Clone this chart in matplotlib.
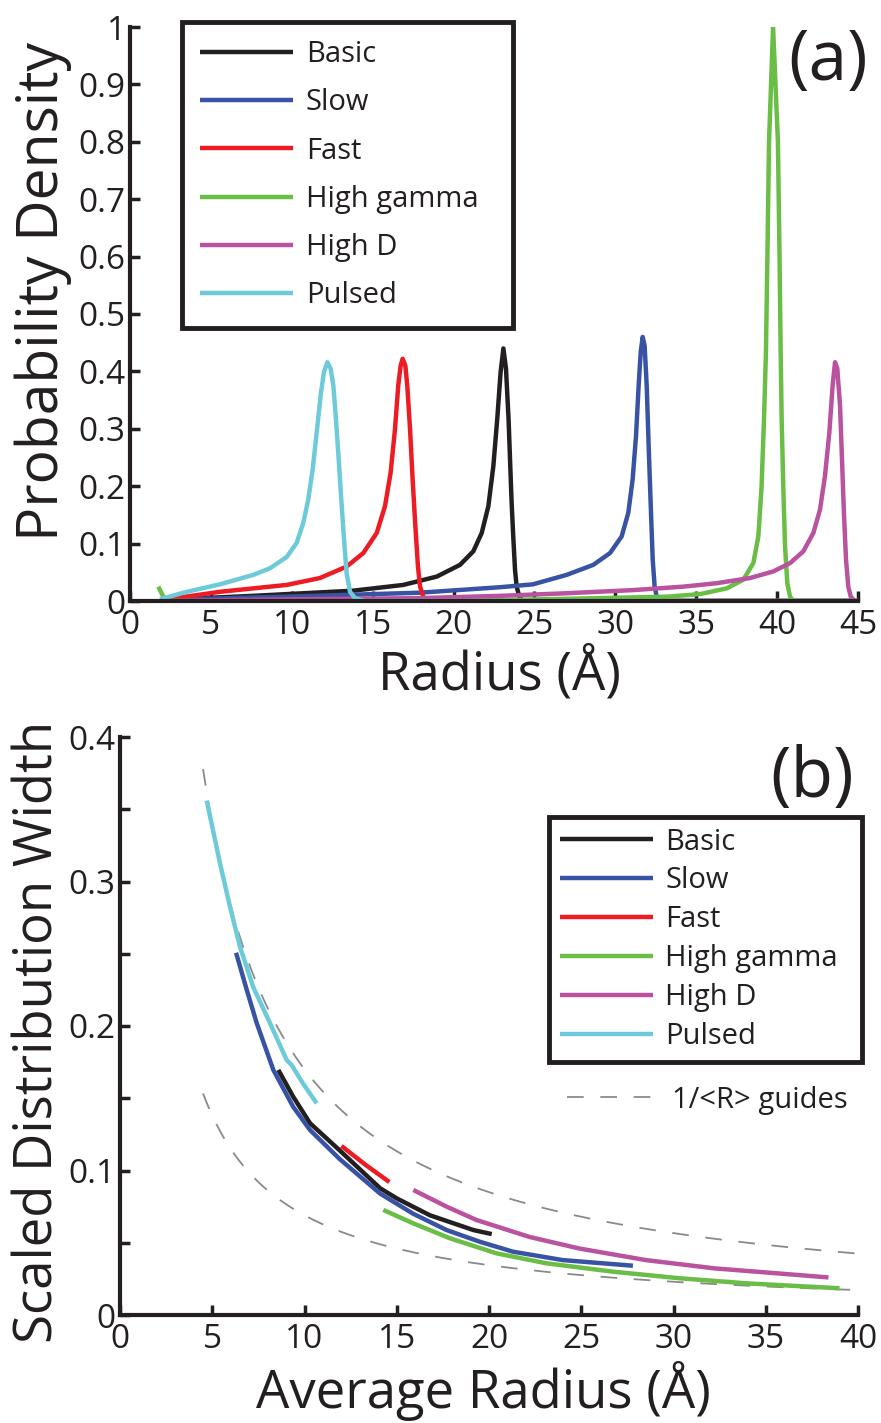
import matplotlib
matplotlib.use("Agg")
import matplotlib.pyplot as plt
from matplotlib.ticker import MultipleLocator
import numpy as np

plt.rcParams['font.family'] = ['Open Sans', 'DejaVu Sans']
plt.rcParams['lines.scale_dashes'] = False

# ---------------- data ----------------
series_names = ["Basic", "Slow", "Fast", "High gamma", "High D", "Pulsed"]
series_colors = ["#231f20", "#3953a4", "#ed1c24", "#6abd45", "#b9529f", "#6dcbd9"]

# (a) probability density vs radius (Å)
basic_r = [2.06, 7.62, 13.80, 16.89, 18.96, 20.40, 21.22, 21.74, 22.15, 22.46, 22.70, 22.91,
           23.08, 23.24, 23.40, 23.49, 23.59, 23.69, 23.80, 23.90, 24.07, 24.3, 45]
basic_p = [0.002, 0.009, 0.018, 0.028, 0.0425, 0.063, 0.0865, 0.1185, 0.165, 0.235, 0.317, 0.399,
           0.44, 0.405, 0.317, 0.247, 0.171, 0.1125, 0.054, 0.025, 0.0075, 0.0, 0.0]

slow_r = [2.06, 9.68, 17.93, 22.87, 24.9, 26.99, 28.64, 29.67, 30.39, 30.80, 31.07, 31.28, 31.44,
          31.57, 31.69, 31.81, 31.94, 32.06, 32.19, 32.31, 32.43, 32.56, 32.8, 45]
slow_p = [0.002, 0.0075, 0.0145, 0.024, 0.029, 0.0455, 0.063, 0.0835, 0.1125, 0.1535, 0.212, 0.288,
          0.375, 0.434, 0.46, 0.445, 0.375, 0.270, 0.165, 0.072, 0.025, 0.0075, 0.0, 0.0]

fast_r = [2.06, 5.56, 9.68, 11.74, 13.39, 14.42, 15.25, 15.76, 16.11, 16.38, 16.58, 16.73, 16.85,
          17.02, 17.14, 17.31, 17.47, 17.64, 17.80, 17.93, 18.13, 18.4, 45]
fast_p = [0.002, 0.016, 0.028, 0.040, 0.060, 0.0835, 0.1185, 0.165, 0.2235, 0.2995, 0.375, 0.410,
          0.422, 0.410, 0.375, 0.2995, 0.212, 0.130, 0.060, 0.025, 0.0075, 0.0, 0.0]

gamma_r = [1.75, 2.06, 2.3, 20, 29.05, 33.17, 35.23, 36.88, 37.91, 38.53, 38.84, 39.04, 39.19,
           39.31, 39.40, 39.50, 39.75, 40.05, 40.15, 40.22, 40.28, 40.38, 40.49, 40.63, 40.80,
           41.0, 45]
gamma_p = [0.025, 0.0075, 0.0, 0.0, 0.005, 0.0075, 0.012, 0.022, 0.037, 0.066, 0.1125, 0.200, 0.317,
           0.434, 0.6, 0.8, 1.0, 0.8, 0.6, 0.434, 0.317, 0.200, 0.095, 0.031, 0.0075,
           0.0, 0.0]

highd_r = [2.06, 10, 17.9, 22.87, 26.99, 31.11, 34.20, 36.26, 38.32, 39.76, 40.80, 41.62, 42.24,
           42.65, 42.96, 43.23, 43.43, 43.58, 43.72, 43.89, 44.01, 44.13, 44.26, 44.40, 44.55,
           44.8, 45]
highd_p = [0.0, 0.003, 0.005, 0.009, 0.0135, 0.019, 0.025, 0.031, 0.040, 0.0515, 0.066, 0.0865,
           0.1185, 0.159, 0.218, 0.294, 0.375, 0.416, 0.405, 0.340, 0.247, 0.1535, 0.072, 0.025,
           0.0075, 0.0, 0.0]

pulsed_r = [1.85, 3.50, 5.56, 7.62, 8.65, 9.68, 10.30, 10.71, 11.02, 11.29, 11.54, 11.81, 11.99,
            12.20, 12.40, 12.57, 12.73, 12.90, 13.06, 13.23, 13.39, 13.60, 13.91, 14.5, 45]
pulsed_p = [0.003, 0.016, 0.029, 0.0455, 0.057, 0.0765, 0.101, 0.136, 0.177, 0.229, 0.294, 0.364,
            0.399, 0.416, 0.405, 0.375, 0.317, 0.247, 0.177, 0.107, 0.0485, 0.016, 0.005, 0.0, 0.0]

# (b) scaled distribution width vs average radius (Å)
basic_avg = [8.58, 9.39, 10.3, 11.9, 14.1, 15.0, 16.8, 19.15, 20.15]
basic_w = [0.1696, 0.151, 0.1327, 0.114, 0.0877, 0.0807, 0.069, 0.0588, 0.056]

slow_avg = [6.29, 6.87, 7.41, 8.31, 9.39, 10.3, 11.9, 14.1, 15.9, 17.7, 19.5, 21.3, 24.0, 27.8]
slow_w = [0.2507, 0.225, 0.202, 0.1696, 0.144, 0.128, 0.108, 0.084, 0.070, 0.0588, 0.0507,
          0.0438, 0.038, 0.0341]

fast_avg = [12.0, 13.3, 14.6]
fast_w = [0.117, 0.104, 0.092]

gamma_avg = [14.27, 15.9, 17.9, 20.4, 23.1, 26.7, 30.35, 33.97, 39.0]
gamma_w = [0.0727, 0.0634, 0.053, 0.0427, 0.0358, 0.030, 0.0254, 0.0219, 0.0185]

highd_avg = [15.9, 17.7, 19.33, 22.2, 24.9, 28.5, 32.2, 38.4]
highd_w = [0.0865, 0.075, 0.0657, 0.054, 0.046, 0.038, 0.0323, 0.026]

pulsed_avg = [4.7, 5.42, 5.96, 6.5, 7.22, 8.13, 9.03, 9.3, 9.93, 10.66]
pulsed_w = [0.356, 0.3126, 0.2826, 0.255, 0.227, 0.202, 0.1765, 0.173, 0.160, 0.1465]

# 1/<R> guide curves: coefficient c in c/<R>
guide_coeffs = [1.7, 0.69]
guide_range = (4.5, 40.0)

radius_curves = [(basic_r, basic_p), (slow_r, slow_p), (fast_r, fast_p),
                 (gamma_r, gamma_p), (highd_r, highd_p), (pulsed_r, pulsed_p)]
width_curves = [(basic_avg, basic_w), (slow_avg, slow_w), (fast_avg, fast_w),
                (gamma_avg, gamma_w), (highd_avg, highd_w), (pulsed_avg, pulsed_w)]

# ---------------- figure ----------------
W, H = 881, 1423
fig = plt.figure(figsize=(W / 100, H / 100), dpi=100)
INK = "#231f20"


def px_axes(l, t, r, b):
    return fig.add_axes([l / W, 1 - b / H, (r - l) / W, (b - t) / H])


def px_box(l, t, r, b):
    return (l / W, 1 - b / H, (r - l) / W, (b - t) / H)


def style_axes(ax):
    for s in ("top", "right"):
        ax.spines[s].set_visible(False)
    for s in ("left", "bottom"):
        ax.spines[s].set_linewidth(3)
        ax.spines[s].set_color(INK)
    ax.tick_params(which="both", direction="in", length=7, width=2.5,
                   color=INK, labelsize=24, labelcolor=INK)
    ax.tick_params(axis="y", pad=3)
    ax.tick_params(axis="x", pad=6)


def boxed_legend(ax, handles, box, fontsize, spacing, pad):
    leg = ax.legend(handles=handles, loc="upper left", bbox_to_anchor=box,
                    bbox_transform=fig.transFigure, mode="expand",
                    fontsize=fontsize, handlelength=3.2, handletextpad=0.42,
                    labelspacing=spacing, borderpad=pad, borderaxespad=0,
                    fancybox=False, frameon=True, framealpha=1)
    leg.get_frame().set_edgecolor(INK)
    leg.get_frame().set_linewidth(3.5)
    for t in leg.get_texts():
        t.set_color(INK)
    return leg


ax1 = px_axes(130, 27, 858, 601)
ax2 = px_axes(120, 737, 858, 1315)

# panel (a)
h1 = []
for (x, y), name, col in zip(radius_curves, series_names, series_colors):
    h, = ax1.plot(x, y, color=col, lw=3.2, label=name, solid_joinstyle="round",
                  solid_capstyle="butt")
    h1.append(h)
ax1.set_xlim(0, 45)
ax1.set_ylim(0, 1)
ax1.set_xticks(np.arange(0, 46, 5))
ax1.set_yticks(np.arange(0, 1.01, 0.1))
ax1.set_yticklabels(["0", "0.1", "0.2", "0.3", "0.4", "0.5", "0.6", "0.7", "0.8", "0.9", "1"])
style_axes(ax1)
ax1.set_xlabel("Radius (Å)", fontsize=38, color=INK)
ax1.set_ylabel("Probability Density", fontsize=41, color=INK)
ax1.xaxis.set_label_coords(0.508, -0.08)
ax1.yaxis.set_label_coords(-0.08, 0.54)
ax1.text(0.959, 1.0, "(a)", transform=ax1.transAxes, fontsize=50,
         ha="center", va="top", color=INK)

boxed_legend(ax1, h1, px_box(182, 22, 513, 322), 21, 0.66, 0.62)

# panel (b)
gx = np.linspace(guide_range[0], guide_range[1], 300)
guide_lines = []
for c in guide_coeffs:
    ln, = ax2.plot(gx, c / gx, color="#8a8a8a", lw=1.3, dashes=(12, 12), zorder=1)
    guide_lines.append(ln)

h2 = []
for (x, y), name, col in zip(width_curves, series_names, series_colors):
    h, = ax2.plot(x, y, color=col, lw=3.2, label=name, solid_joinstyle="round",
                  solid_capstyle="butt", zorder=2)
    h2.append(h)
ax2.set_xlim(0, 40)
ax2.set_ylim(0, 0.4)
ax2.set_xticks(np.arange(0, 41, 5))
ax2.set_yticks([0, 0.1, 0.2, 0.3, 0.4])
ax2.set_yticklabels(["0", "0.1", "0.2", "0.3", "0.4"])
ax2.yaxis.set_minor_locator(MultipleLocator(0.05))
style_axes(ax2)
ax2.set_xlabel("Average Radius (Å)", fontsize=38, color=INK)
ax2.set_ylabel("Scaled Distribution Width", fontsize=38, color=INK)
ax2.xaxis.set_label_coords(0.492, -0.08)
ax2.yaxis.set_label_coords(-0.074, 0.49)
ax2.text(0.938, 0.988, "(b)", transform=ax2.transAxes, fontsize=50,
         ha="center", va="top", color=INK)

leg2 = boxed_legend(ax2, h2, px_box(549, 817, 862, 1062), 21, 0.34, 0.36)
ax2.add_artist(leg2)

leg3 = ax2.legend(handles=[guide_lines[0]], labels=["1/<R> guides"],
                  loc="upper left", bbox_to_anchor=(555 / W, 1 - 1074 / H),
                  bbox_transform=fig.transFigure, fontsize=21,
                  handlelength=3.2, handletextpad=0.42, frameon=False,
                  borderaxespad=0)
for t in leg3.get_texts():
    t.set_color(INK)

fig.savefig("out.png", dpi=100)
